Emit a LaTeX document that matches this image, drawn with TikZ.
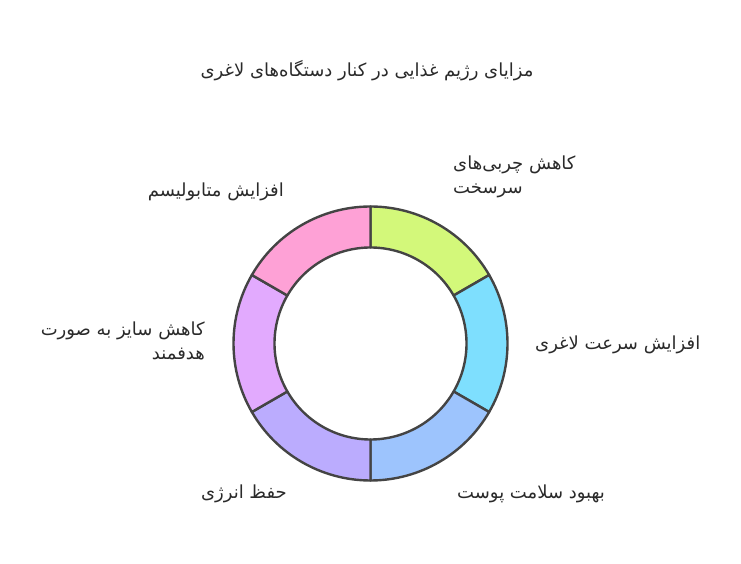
\documentclass[tikz,border=0pt]{standalone}
\usepackage{fontspec}
\usepackage{xcolor}
\usepackage{tikz}
\TeXXeTstate=1
\newfontfamily\arabicfont[Script=Arabic]{DejaVu Sans}
\definecolor{verde}{HTML}{D3F87A}
\definecolor{celeste}{HTML}{7EDFFE}
\definecolor{azul}{HTML}{9DC4FD}
\definecolor{violeta}{HTML}{BBACFE}
\definecolor{lila}{HTML}{E2AAFE}
\definecolor{rosa}{HTML}{FEA1D6}
\definecolor{trazo}{HTML}{444444}
\definecolor{texto}{HTML}{2A2A2A}

\begin{document}
\begin{tikzpicture}[x=1pt, y=1pt,
  seg/.style={draw=trazo, line width=2.4pt, line join=round},
  etiqueta/.style={inner sep=0pt, text=texto, font=\arabicfont\fontsize{18}{24}\selectfont}]
\useasboundingbox (0,0) rectangle (741,564);
% Titulo
\node[etiqueta] (titulo) at (367,493) {\beginR مزایای رژیم غذایی در کنار دستگاه‌های لاغری\endR};
% Anillo
\begin{scope}[shift={(370.5,220.5)}]
\filldraw[seg, fill=verde] (90:137) arc[start angle=90, end angle=30, radius=137] -- (30:96) arc[start angle=30, end angle=90, radius=96] -- cycle;
\filldraw[seg, fill=celeste] (30:137) arc[start angle=30, end angle=-30, radius=137] -- (-30:96) arc[start angle=-30, end angle=30, radius=96] -- cycle;
\filldraw[seg, fill=azul] (-30:137) arc[start angle=-30, end angle=-90, radius=137] -- (-90:96) arc[start angle=-90, end angle=-30, radius=96] -- cycle;
\filldraw[seg, fill=violeta] (-90:137) arc[start angle=-90, end angle=-150, radius=137] -- (-150:96) arc[start angle=-150, end angle=-90, radius=96] -- cycle;
\filldraw[seg, fill=lila] (-150:137) arc[start angle=-150, end angle=-210, radius=137] -- (150:96) arc[start angle=150, end angle=210, radius=96] -- cycle;
\filldraw[seg, fill=rosa] (150:137) arc[start angle=150, end angle=90, radius=137] -- (90:96) arc[start angle=90, end angle=150, radius=96] -- cycle;
\end{scope}
% Etiquetas
\node[etiqueta, anchor=west, align=left] (grasa) at (453,387.5) {\beginR کاهش چربی‌های\endR\\\beginR سرسخت\endR};
\node[etiqueta, anchor=west] (velocidad) at (535,219) {\beginR افزایش سرعت لاغری\endR};
\node[etiqueta, anchor=west] (piel) at (457,70) {\beginR بهبود سلامت پوست\endR};
\node[etiqueta, anchor=east] (energia) at (287,70) {\beginR حفظ انرژی\endR};
\node[etiqueta, anchor=east, align=right] (talla) at (205,223) {\beginR کاهش سایز به صورت\endR\\\beginR هدفمند\endR};
\node[etiqueta, anchor=east] (metabolismo) at (284,372) {\beginR افزایش متابولیسم\endR};
\end{tikzpicture}
\end{document}
